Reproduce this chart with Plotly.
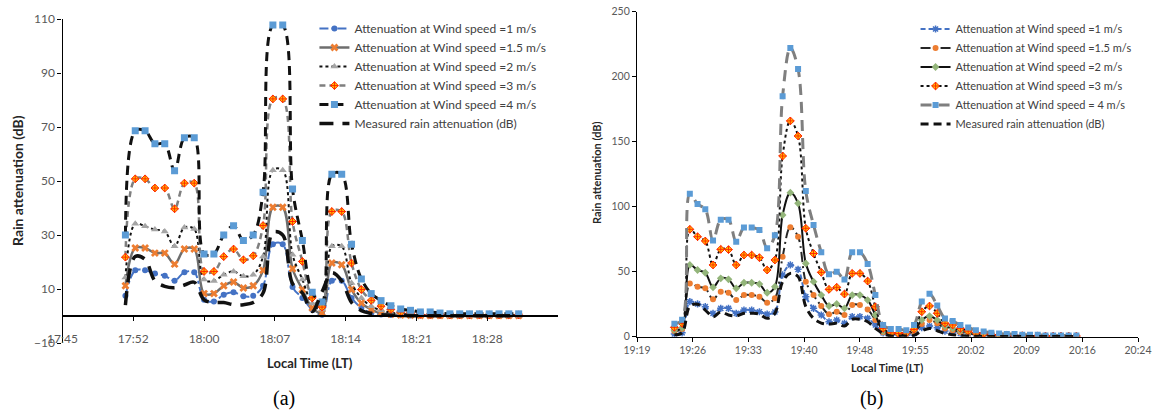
import plotly.graph_objects as go

W, H = 1156, 414

# ---------------- Panel (a) data ----------------
a_axis_start = "17:45"
a_axis_span_min = 50.4
a_first_sample = "17:51:24"
a_sample_step_min = 1.0
a_tick_labels = ["17:45", "17:52", "18:00", "18:07", "18:14", "18:21", "18:28"]
a_tick_step_min = 7.2

a_ws1 = [7.5, 16.9, 16.9, 15.7, 14.9, 13.1, 16.2, 16.2, 6, 5.4, 7.9, 8.8, 7.3, 7.5, 11.2, 26.6, 26.6,
         10.7, 6.7, 2.4, 0.5, 13.1, 13.1, 6.7, 3, 1.1, 0.6, 0.4, 0.3, 0.2, 0.2, 0.1, 0.1, 0.1, 0.1,
         0.1, 0.1, 0.1, 0.1, 0.1, 0.1]
a_ws15 = [11.2, 25.2, 25.2, 23.3, 23.3, 19.2, 24.8, 24.8, 8.3, 8.3, 11.2, 12.6, 10.4, 11.2, 16.9,
          40.3, 40.3, 17.5, 9.8, 3, 1.1, 19.6, 19, 9.8, 4.8, 2.4, 1.1, 0.6, 0.4, 0.3, 0.2, 0.2, 0.2,
          0.2, 0.2, 0.2, 0.2, 0.2, 0.2, 0.2, 0.2]
a_ws2 = [14.3, 34.2, 33.2, 32, 31.3, 25.8, 32.8, 32.2, 13.5, 13, 15.3, 16.5, 14.7, 15.3, 22, 54, 54,
         22.7, 13.5, 4.6, 2.4, 25.8, 25.8, 12.2, 6.7, 3.6, 2.1, 1.2, 0.8, 0.5, 0.4, 0.3, 0.3, 0.3,
         0.3, 0.3, 0.3, 0.3, 0.3, 0.3, 0.3]
a_ws3 = [21.8, 50.8, 50.8, 47.4, 47.4, 39.7, 49.2, 49.2, 16.5, 16.5, 22, 24.8, 20.8, 22.3, 33.5,
         80.4, 80.4, 35, 20.2, 6.7, 3.3, 38.7, 38.7, 19.6, 9.8, 5.8, 3.6, 2.4, 1.4, 1.1, 0.6, 0.5,
         0.5, 0.4, 0.4, 0.4, 0.4, 0.4, 0.4, 0.4, 0.4]
a_ws4 = [30, 68.6, 68.6, 63.8, 63.8, 53.8, 66, 66, 23, 23, 30, 33.4, 28, 30, 45.8, 107.8, 107.8, 47,
         28, 8.8, 5.2, 52.5, 52.5, 26.6, 13.7, 8.3, 5.7, 3.8, 2.6, 2.1, 1.5, 1.5, 1.1, 0.8, 0.8, 0.8,
         0.8, 0.8, 0.8, 0.8, 0.8]
a_meas = [4, 22, 21, 13, 11, 10.5, 11.5, 12.5, 6, 5, 5, 4.2, 4.2, 5, 8.5, 31, 30, 12, 8.5, 1.7, 9,
          16, 13, 5, 2, 1, 0.5, 0.3, 0.2, 0.1, 0.1, 0.1, 0.1, 0.1, 0.1, 0.1, 0.1, 0.1, 0.1, 0.1, 0.1]

# ---------------- Panel (b) data ----------------
b_axis_start = "19:19"
b_axis_span_min = 64.8
b_first_sample = "19:23:50"
b_sample_step_min = 1.0
b_tick_labels = ["19:19", "19:26", "19:33", "19:40", "19:48", "19:55", "20:02", "20:09", "20:16", "20:24"]
b_tick_step_min = 7.2

b_ws1 = [2, 3, 27, 25.2, 23.1, 18, 21.8, 21.8, 18, 20.5, 20.5, 19.2, 17.4, 19, 47.5, 55.2, 51.8,
         30.8, 21.8, 16.7, 11.5, 12.8, 10.3, 15.4, 15.4, 14.1, 9, 3, 1.8, 1.3, 1.3, 2.5, 6.9, 8.2,
         6.9, 4.3, 3.5, 2.5, 2, 1.5, 1, 0.8, 0.6, 0.5, 0.4, 0.4, 0.3, 0.3, 0.2, 0.2, 0.2, 0.2, 0.2]
b_ws15 = [4.4, 6, 41, 38.5, 37.2, 28.8, 34.6, 33.8, 28.2, 32, 32, 30.8, 26.2, 29.5, 61.5, 84.1, 76.9,
          42.3, 32, 23.6, 17.2, 19.2, 16.7, 24.4, 24.4, 21, 12.8, 3.5, 2, 2, 2, 3.5, 9.7, 12.8, 10.3,
          6.4, 5, 3.5, 2.5, 2, 1.5, 1, 0.8, 0.6, 0.5, 0.5, 0.4, 0.4, 0.3, 0.3, 0.3, 0.3, 0.3]
b_ws2 = [5.2, 6.8, 55.2, 51.3, 49.2, 38, 44.9, 44.1, 37.2, 41.5, 41.5, 40.5, 33.8, 38.5, 93.6, 110.8,
         102.6, 56.4, 42.3, 32, 23.6, 25.2, 21.8, 32, 32, 28.2, 16.7, 4.4, 2.5, 2.5, 2.5, 4.6, 12.8,
         15.9, 12.8, 8.2, 6.4, 4.6, 3, 2.5, 2, 1.5, 1, 1, 0.8, 0.6, 0.5, 0.5, 0.4, 0.4, 0.4, 0.4, 0.4]
b_ws3 = [7.2, 10.3, 82.6, 76.9, 73.6, 55.2, 67.2, 67, 55.2, 62.8, 62.8, 60.8, 51.3, 59, 139, 166,
         154.4, 83.4, 64, 49.5, 36.4, 38, 32.8, 48.7, 48.7, 42.8, 23, 6.4, 3, 2.5, 3, 5.6, 19.2, 23.6,
         18, 10.3, 9, 6.4, 4.3, 3, 2.5, 1.5, 1, 1, 0.8, 0.8, 0.6, 0.6, 0.5, 0.5, 0.5, 0.5, 0.5]
b_ws4 = [10, 13, 110, 102, 98, 74, 90, 90, 73, 84, 84, 82, 68, 78, 185, 222, 206, 112, 86, 65, 48,
         50, 44, 65, 65, 56, 32, 9, 6, 6, 5, 9, 27, 33, 24, 14, 12, 9, 7, 5, 4, 3, 2.5, 2, 2, 1.5,
         1.5, 1.5, 1, 1, 1, 1, 1]
b_meas = [1.5, 3, 23.6, 25, 20.5, 15.4, 19, 16.7, 16, 18, 18, 17.4, 14.1, 18, 42.3, 48.7, 46.2,
          23.1, 14.1, 10.5, 9.7, 10.3, 8.2, 13.4, 13.4, 11.5, 6.4, 2.5, 0.5, 0.5, 0.5, 1, 4.6, 6.4,
          4.6, 2.5, 1.5, 1, 0.5, 0.3, 0.2, 0.1, 0.1, 0.1, 0.1, 0.1, 0.1, 0.1, 0.1, 0.1, 0.1, 0.1, 0.1]

legend_names = ["Attenuation at Wind speed =1 m/s", "Attenuation at Wind speed =1.5 m/s",
                "Attenuation at Wind speed =2 m/s", "Attenuation at Wind speed =3 m/s",
                "Attenuation at Wind speed =4 m/s", "Measured rain attenuation (dB)"]
legend_names_b = ["Attenuation at Wind speed =1 m/s", "Attenuation at Wind speed =1.5 m/s",
                  "Attenuation at Wind speed =2 m/s", "Attenuation at Wind speed =3 m/s",
                  "Attenuation at Wind speed = 4 m/s", "Measured rain attenuation (dB)"]


def to_min(s):
    parts = [int(p) for p in s.split(":")]
    while len(parts) < 3:
        parts.append(0)
    return parts[0] * 60 + parts[1] + parts[2] / 60.0


def minutes_axis(start, first, step, n):
    t0 = to_min(first) - to_min(start)
    return [t0 + i * step for i in range(n)]


xa = minutes_axis(a_axis_start, a_first_sample, a_sample_step_min, len(a_ws1))
xb = minutes_axis(b_axis_start, b_first_sample, b_sample_step_min, len(b_ws1))
a_tickvals = [i * a_tick_step_min for i in range(len(a_tick_labels))]
b_tickvals = [i * b_tick_step_min for i in range(len(b_tick_labels))]

FONT = "Lato"
TICKC = "#595959"

fig = go.Figure()

# ---- panel (a) traces ----
a_styles = [
    dict(line=dict(color="#4472C4", width=2, dash="dashdot"), marker=dict(symbol="circle", size=6, color="#4472C4")),
    dict(line=dict(color="#6E6E6E", width=2.5), marker=dict(symbol="x", size=7, color="#ED7D31")),
    dict(line=dict(color="#111111", width=2, dash="dot"), marker=dict(symbol="triangle-up", size=7, color="#A5A5A5")),
    dict(line=dict(color="#7F7F7F", width=2.5, dash="6px,4px"),
         marker=dict(symbol="diamond-cross", size=6, color="#FFC000", line=dict(color="#FF2A00", width=1))),
    dict(line=dict(color="#111111", width=3, dash="9px,6px"), marker=dict(symbol="square", size=7, color="#5B9BD5")),
    dict(line=dict(color="#111111", width=3.5, dash="14px,9px")),
]
for name, ys, st in zip(legend_names, [a_ws1, a_ws15, a_ws2, a_ws3, a_ws4, a_meas], a_styles):
    mode = "lines+markers" if "marker" in st else "lines"
    st["line"]["shape"] = "spline"
    st["line"]["smoothing"] = 1.0
    fig.add_trace(go.Scatter(x=xa, y=ys, name=name, mode=mode, xaxis="x", yaxis="y",
                             legend="legend", **st))

# ---- panel (b) traces ----
b_styles = [
    dict(line=dict(color="#4472C4", width=2, dash="5px,3px"),
         marker=dict(symbol="asterisk-open", size=6, color="#4472C4", line=dict(color="#4472C4", width=1.5))),
    dict(line=dict(color="#262626", width=2, dash="10px,4px,2px,4px"), marker=dict(symbol="circle", size=6, color="#ED7D31")),
    dict(line=dict(color="#111111", width=2), marker=dict(symbol="diamond", size=6, color="#93B57A")),
    dict(line=dict(color="#111111", width=2, dash="dot"),
         marker=dict(symbol="diamond-cross", size=6, color="#FFC000", line=dict(color="#FF2A00", width=1))),
    dict(line=dict(color="#7F7F7F", width=3, dash="11px,7px"), marker=dict(symbol="square", size=6, color="#5B9BD5")),
    dict(line=dict(color="#111111", width=3, dash="8px,5px")),
]
for name, ys, st in zip(legend_names_b, [b_ws1, b_ws15, b_ws2, b_ws3, b_ws4, b_meas], b_styles):
    mode = "lines+markers" if "marker" in st else "lines"
    st["line"]["shape"] = "spline"
    st["line"]["smoothing"] = 1.0
    fig.add_trace(go.Scatter(x=xb, y=ys, name=name, mode=mode, xaxis="x3", yaxis="y3",
                             legend="legend2", **st))

# ---- geometry ----
ax_a = [62.5 / W, 558 / W]
ay_a = [1 - 343 / H, 1 - 19 / H]
ax_b = [637 / W, 1138 / W]
ay_b = [1 - 336.7 / H, 1 - 11.7 / H]
a_yrange = [-10, 110]
zero_pos = ay_a[0] + (0 - a_yrange[0]) / (a_yrange[1] - a_yrange[0]) * (ay_a[1] - ay_a[0])

fig.update_layout(
    width=W, height=H, margin=dict(l=0, r=0, t=0, b=0, autoexpand=False),
    paper_bgcolor="white", plot_bgcolor="white",
    font=dict(family=FONT, color=TICKC),
    xaxis=dict(domain=ax_a, anchor="free", position=zero_pos, side="bottom",
               range=[0, a_axis_span_min], tickvals=a_tickvals, ticktext=a_tick_labels,
               ticks="outside", ticklen=4, tickcolor="#000", ticklabelstandoff=8,
               showline=True, linecolor="#000", linewidth=1.5,
               showgrid=False, zeroline=False, automargin=False,
               tickfont=dict(size=12, color=TICKC, family=FONT)),
    yaxis=dict(domain=ay_a, anchor="x", range=a_yrange, tickvals=[-10, 10, 30, 50, 70, 90, 110],
               ticks="outside", ticklen=4, tickcolor="#000", showline=True, linecolor="#000",
               linewidth=1.2, showgrid=False, zeroline=False, automargin=False,
               tickfont=dict(size=12, color=TICKC, family=FONT)),
    xaxis3=dict(domain=ax_b, anchor="y3", range=[0, b_axis_span_min], tickvals=b_tickvals,
                ticktext=b_tick_labels, ticks="outside", ticklen=4, tickcolor="#000",
                showline=True, linecolor="#000", linewidth=1.2, showgrid=False, zeroline=False,
                automargin=False, tickfont=dict(size=10.5, color=TICKC, family=FONT)),
    yaxis3=dict(domain=ay_b, anchor="x3", range=[0, 250], dtick=50, ticks="outside", ticklen=4,
                tickcolor="#000", showline=True, linecolor="#000", linewidth=1.2, showgrid=False,
                zeroline=False, automargin=False, tickfont=dict(size=10.5, color=TICKC, family=FONT)),
    legend=dict(x=0.272, y=0.966, xanchor="left", yanchor="top", bgcolor="rgba(0,0,0,0)",
                font=dict(size=12, color="#404040", family=FONT), tracegroupgap=0),
    legend2=dict(x=0.792, y=0.965, xanchor="left", yanchor="top", bgcolor="rgba(0,0,0,0)",
                 font=dict(size=11, color="#404040", family=FONT), tracegroupgap=0),
    showlegend=True,
)

annos = [
    dict(text="<b>Rain attenuation (dB)</b>", x=18 / W, y=1 - 181 / H, textangle=-90,
         font=dict(size=14, color="#262626", family=FONT)),
    dict(text="<b>Local Time (LT)</b>", x=310 / W, y=1 - 363 / H,
         font=dict(size=13, color="#262626", family=FONT)),
    dict(text="(a)", x=284 / W, y=1 - 398 / H, font=dict(size=20, color="#000", family="Liberation Serif")),
    dict(text="<b>Rain attenuation (dB)</b>", x=596 / W, y=1 - 173 / H, textangle=-90,
         font=dict(size=11, color="#262626", family=FONT)),
    dict(text="<b>Local Time (LT)</b>", x=887 / W, y=1 - 367 / H,
         font=dict(size=11, color="#262626", family=FONT)),
    dict(text="(b)", x=871 / W, y=1 - 398 / H, font=dict(size=20, color="#000", family="Liberation Serif")),
]
for a in annos:
    a.update(xref="paper", yref="paper", showarrow=False, xanchor="center", yanchor="middle")
fig.update_layout(annotations=annos)

fig.write_html("out.html")
